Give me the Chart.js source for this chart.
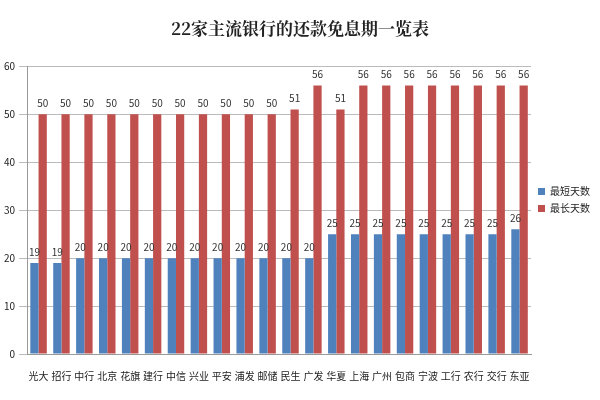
<!DOCTYPE html>
<html>
<head>
<meta charset="utf-8">
<script src="https://cdn.jsdelivr.net/npm/chart.js@4"></script>
<style>
  html, body { margin: 0; padding: 0; background: #fff; }
  #wrap { width: 600px; height: 400px; }
</style>
</head>
<body>
<div id="wrap"><canvas id="bankChart"></canvas></div>
<script>
// Data
const banks = ['光大', '招行', '中行', '北京', '花旗', '建行', '中信', '兴业', '平安', '浦发', '邮储',
    '民生', '广发', '华夏', '上海', '广州', '包商', '宁波', '工行', '农行', '交行', '东亚'];
const shortestDays = [19, 19, 20, 20, 20, 20, 20, 20, 20, 20, 20, 20, 20, 25, 25, 25, 25, 25, 25, 25, 25, 26];
const longestDays = [50, 50, 50, 50, 50, 50, 50, 50, 50, 50, 50, 51, 56, 51, 56, 56, 56, 56, 56, 56, 56, 56];
const yTicks = [0, 10, 20, 30, 40, 50, 60];

const cjk = '"Noto Sans CJK SC", "Noto Sans", sans-serif';

// draw value above each bar
const valueLabels = {
    id: 'valueLabels',
    afterDatasetsDraw(chart) {
        const ctx = chart.ctx;
        ctx.save();
        ctx.font = '10px ' + cjk;
        ctx.fillStyle = '#333';
        ctx.textAlign = 'center';
        ctx.textBaseline = 'bottom';
        chart.data.datasets.forEach((ds, i) => {
            chart.getDatasetMeta(i).data.forEach((bar, j) => {
                ctx.fillText(ds.data[j], bar.x, bar.y - 6);
            });
        });
        ctx.restore();
    }
};

const ctx = document.getElementById('bankChart').getContext('2d');
new Chart(ctx, {
    type: 'bar',
    data: {
        labels: banks,
        datasets: [
            { label: '最短天数', data: shortestDays, backgroundColor: '#4F81BD' },
            { label: '最长天数', data: longestDays, backgroundColor: '#C0504D' }
        ]
    },
    options: {
        responsive: true,
        maintainAspectRatio: false,
        animation: false,
        layout: { padding: { left: 0, right: 0, top: 10, bottom: 10 } },
        datasets: { bar: { categoryPercentage: 0.72, barPercentage: 1.0 } },
        scales: {
            x: {
                grid: { display: false },
                border: { color: '#999' },
                ticks: { color: '#222', font: { size: 10, family: cjk }, maxRotation: 0, autoSkip: false, padding: 8 }
            },
            y: {
                min: 0,
                max: 60,
                afterBuildTicks(axis) { axis.ticks = yTicks.map(v => ({ value: v })); },
                grid: { color: '#bbb' },
                border: { color: '#999' },
                ticks: { color: '#222', font: { size: 10, family: cjk }, padding: 4 }
            }
        },
        plugins: {
            title: {
                display: true,
                text: '22家主流银行的还款免息期一览表',
                color: '#222',
                font: { size: 17, weight: 'bold', family: '"Noto Serif CJK SC", ' + cjk },
                padding: { top: 8, bottom: 28 }
            },
            legend: {
                position: 'right',
                labels: {
                    boxWidth: 7,
                    boxHeight: 7,
                    color: '#222',
                    font: { size: 10, family: cjk },
                    padding: 7
                }
            },
            tooltip: { enabled: false }
        }
    },
    plugins: [valueLabels]
});
</script>
</body>
</html>
